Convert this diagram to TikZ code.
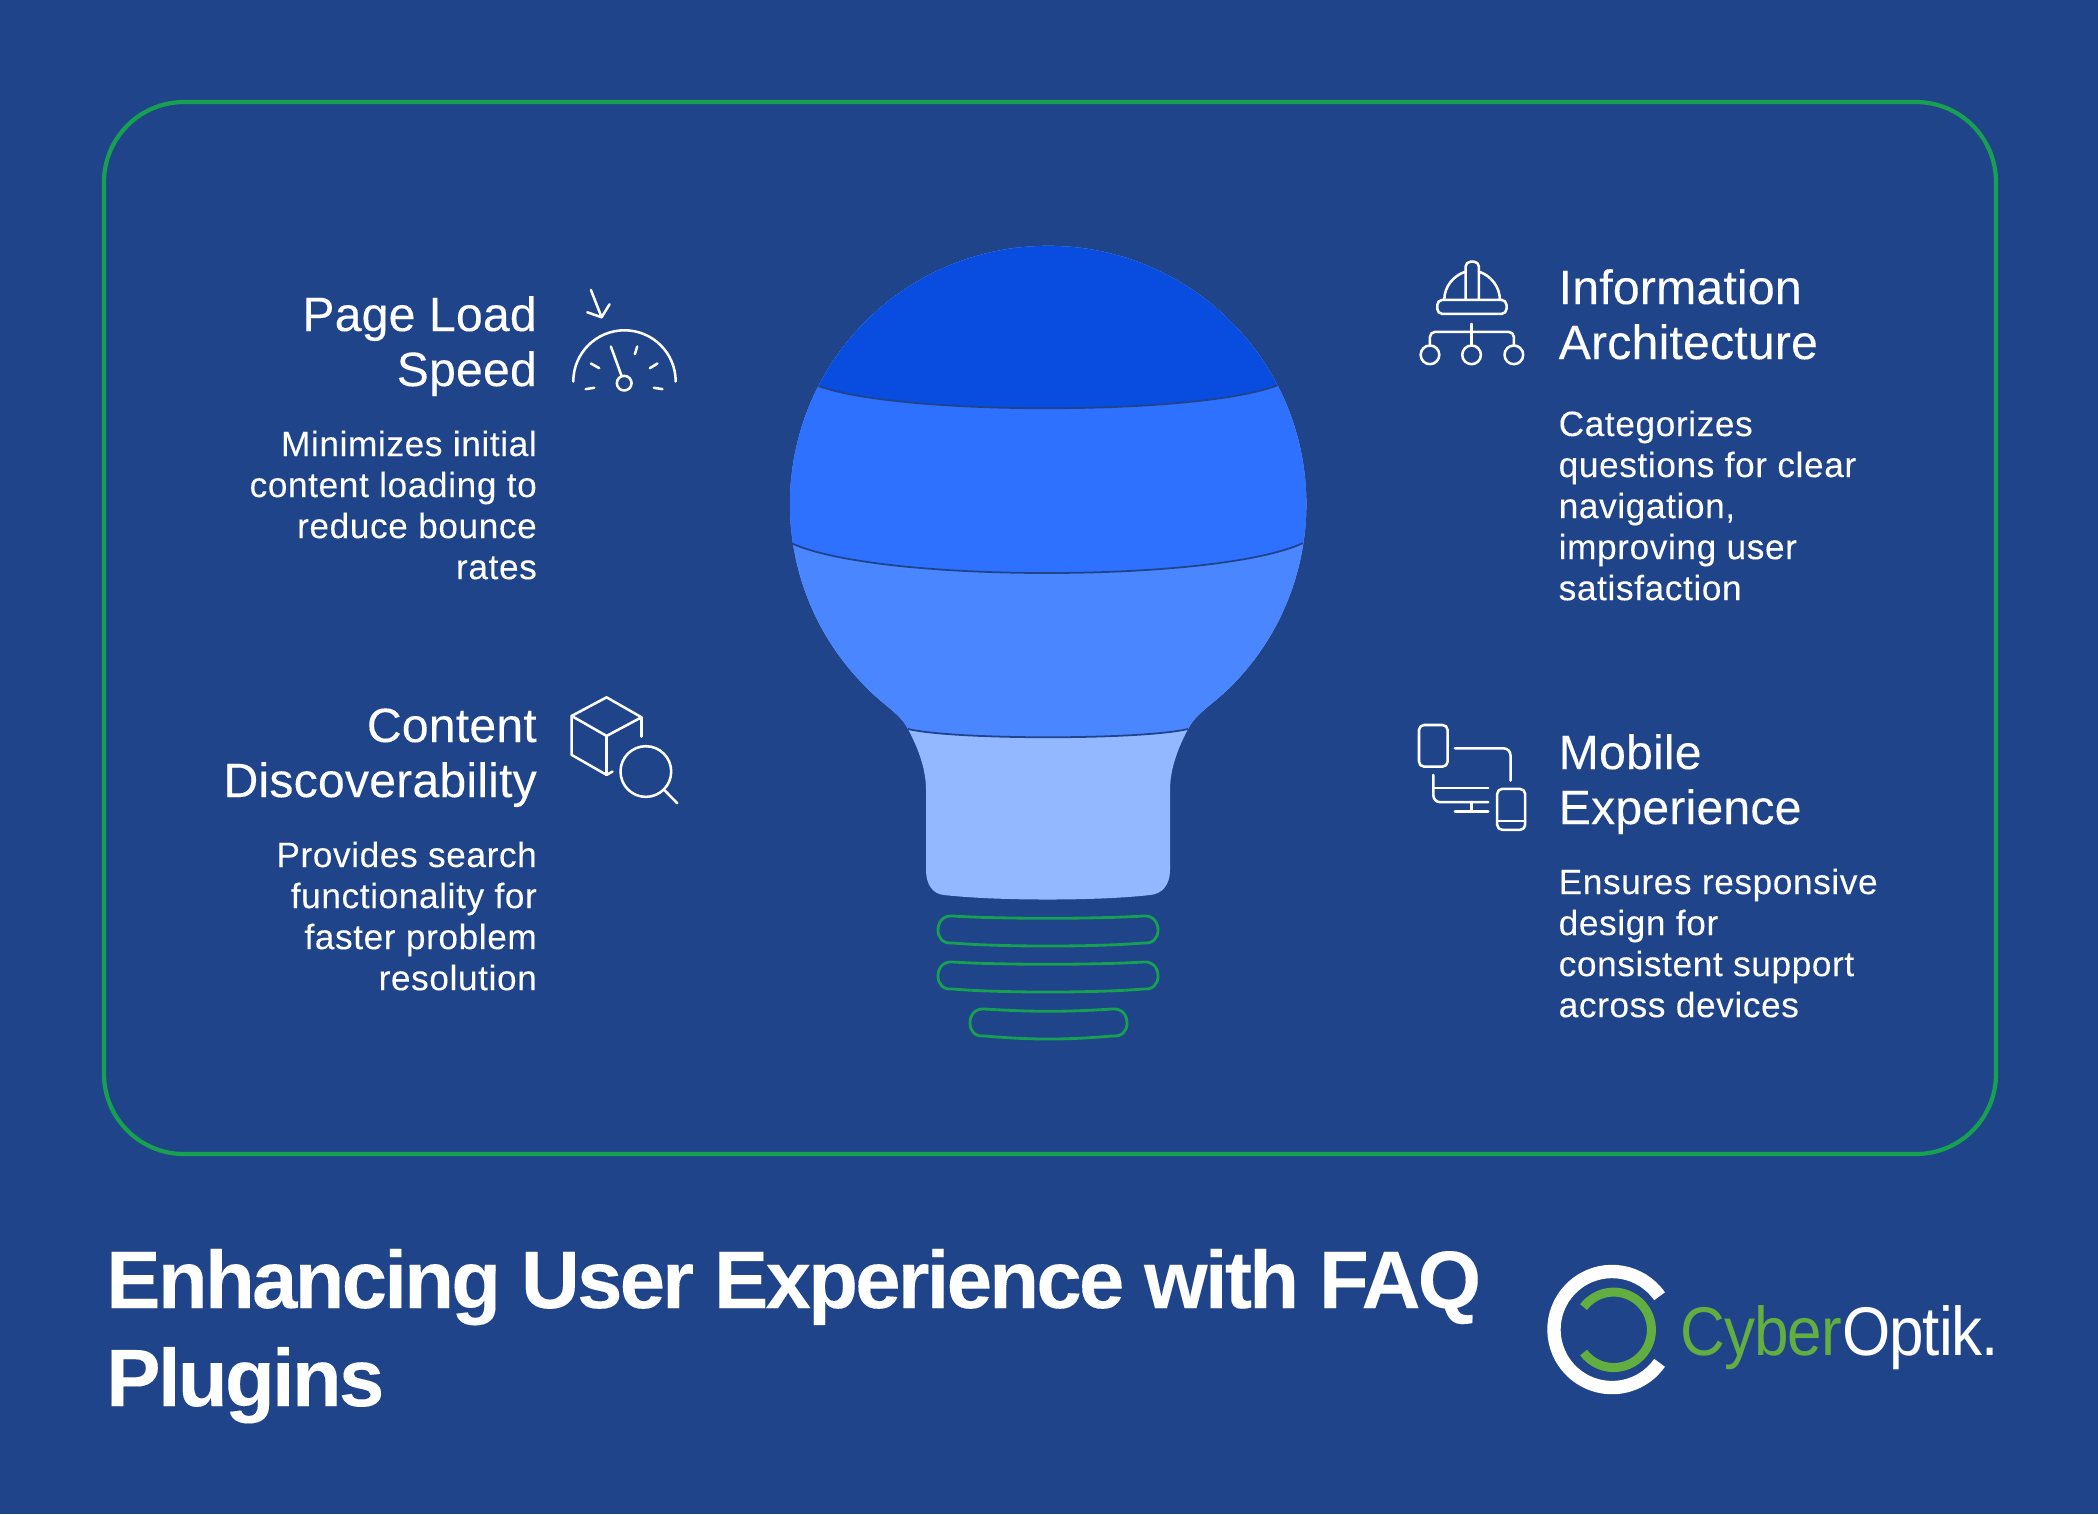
\documentclass[tikz,border=0pt]{standalone}
\usepackage{fontspec}
\setmainfont[LetterSpace=0.4,FakeBold=0.15,BoldFeatures={LetterSpace=-3.4,FakeBold=0.08}]{Liberation Sans}
\newfontfamily\logofont[LetterSpace=-1.5,FakeStretch=0.9]{Liberation Sans}
\definecolor{bgblue}{HTML}{1F448A}
\definecolor{framegreen}{HTML}{16A050}
\definecolor{bandA}{HTML}{084CE0}
\definecolor{bandB}{HTML}{2E70FF}
\definecolor{bandC}{HTML}{4A86FF}
\definecolor{bandD}{HTML}{94B8FF}
\definecolor{seam}{HTML}{1F448A}
\definecolor{logogreen}{HTML}{62AE41}
\newcommand{\bulbthread}[3]{%
  \draw[threadline] (#1+15,#3) .. controls (#1+62,#3+3) and (#2-62,#3+3) .. (#2-15,#3)
    .. controls (#2-5,#3-1) and (#2,#3+6) .. (#2,#3+14)
    .. controls (#2,#3+22) and (#2-5,#3+28) .. (#2-15,#3+27)
    .. controls (#2-62,#3+31) and (#1+62,#3+31) .. (#1+15,#3+27)
    .. controls (#1+5,#3+28) and (#1,#3+22) .. (#1,#3+14)
    .. controls (#1,#3+6) and (#1+5,#3-1) .. (#1+15,#3) -- cycle;}
\newcommand{\bulboutline}{(865.6,686.6)
    arc[start angle=225,end angle=-45,radius=2.58cm]
    .. controls (1211,706) and (1196,713) .. (1188,729)
    .. controls (1177,750) and (1170,770) .. (1170,790)
    -- (1170,870) .. controls (1170,885) and (1162,894) .. (1150,895)
    .. controls (1098,901) and (998,901) .. (944,895)
    .. controls (933,894) and (926,885) .. (926,870)
    -- (926,790) .. controls (926,770) and (919,750) .. (908,729)
    .. controls (900,713) and (884,706) .. (865.6,686.6) -- cycle}
\tikzset{
  threadline/.style={draw=framegreen,line width=0.8pt},
  iconline/.style={draw=white,line width=0.72pt,line cap=round,line join=round},
  headtext/.style={text=white,inner sep=0pt,font=\fontsize{13.7}{15.65}\selectfont},
  bodytext/.style={text=white,inner sep=0pt,font=\fontsize{10}{11.67}\selectfont\addfontfeature{LetterSpace=1.8}},
  titletext/.style={text=white,inner sep=0pt,font=\fontsize{23.2}{27.9}\selectfont\bfseries},
}
\begin{document}
\begin{tikzpicture}[x=0.01cm,y=-0.01cm]
\useasboundingbox (0,0) rectangle (2098,1514);
\fill[bgblue] (0,0) rectangle (2098,1514);
% frame
\draw[framegreen,line width=1.2pt,rounded corners=0.8cm] (104,102) rectangle (1996,1154);
% bulb
\begin{scope}
  \clip \bulboutline;
  \fill[bandD] (700,200) rectangle (1400,950);
  \fill[bandC] (700,200) -- (700,729) -- (908,729) .. controls (955,740) and (1141,740) .. (1188,729) -- (1400,729) -- (1400,200) -- cycle;
  \fill[bandB] (700,200) -- (700,543) -- (791,543) .. controls (877,583) and (1217,583) .. (1303,543) -- (1400,543) -- (1400,200) -- cycle;
  \fill[bandA] (700,200) -- (700,385) -- (816,385) .. controls (893,416) and (1201,416) .. (1278,385) -- (1400,385) -- (1400,200) -- cycle;
  \draw[seam,line width=0.5pt] (908,729) .. controls (955,740) and (1141,740) .. (1188,729);
  \draw[seam,line width=0.5pt] (791,543) .. controls (877,583) and (1217,583) .. (1303,543);
  \draw[seam,line width=0.5pt] (816,385) .. controls (893,416) and (1201,416) .. (1278,385);
\end{scope}
\bulbthread{938}{1158}{916}
\bulbthread{938}{1158}{962}
\bulbthread{970}{1127}{1009}
% texts left
\node[headtext,anchor=base east] (t1h) at (537.5,331) {\begin{tabular}[t]{@{}r@{}}Page Load\\Speed\end{tabular}};
\node[bodytext,anchor=base east] (t1b) at (537.5,456) {\begin{tabular}[t]{@{}r@{}}Minimizes initial\\content loading to\\reduce bounce\\rates\end{tabular}};
\node[headtext,anchor=base east] (t2h) at (537.5,742) {\begin{tabular}[t]{@{}r@{}}Content\\Discoverability\end{tabular}};
\node[bodytext,anchor=base east] (t2b) at (537.5,867) {\begin{tabular}[t]{@{}r@{}}Provides search\\functionality for\\faster problem\\resolution\end{tabular}};
% texts right
\node[headtext,anchor=base west] (t3h) at (1558,304) {\begin{tabular}[t]{@{}l@{}}Information\\Architecture\end{tabular}};
\node[bodytext,anchor=base west] (t3b) at (1558,436) {\begin{tabular}[t]{@{}l@{}}Categorizes\\questions for clear\\navigation,\\improving user\\satisfaction\end{tabular}};
\node[headtext,anchor=base west] (t4h) at (1558,769) {\begin{tabular}[t]{@{}l@{}}Mobile\\Experience\end{tabular}};
\node[bodytext,anchor=base west] (t4b) at (1558,894) {\begin{tabular}[t]{@{}l@{}}Ensures responsive\\design for\\consistent support\\across devices\end{tabular}};
% title
\node[titletext,anchor=base west] (title) at (105.5,1308) {\begin{tabular}[t]{@{}l@{}}Enhancing User Experience with FAQ\\Plugins\end{tabular}};
% speed icon
\begin{scope}[shift={(540,260)},x=0.00333cm,y=-0.00333cm,iconline]
  \draw (153,90) -- (185,172);
  \draw (142,157) -- (185,172) -- (209,133);
  \draw (100,365) arc[start angle=180,end angle=0,radius=0.5117cm];
  \draw (137,388) -- (163,384);
  \draw (153,311) -- (178,325);
  \draw (292,260) -- (285,283);
  \draw (353,311) -- (330,325);
  \draw (342,384) -- (368,388);
  \draw (213,260) -- (245,348);
  \draw (253,370) circle[radius=0.0733cm];
\end{scope}
% cube and lens icon
\begin{scope}[shift={(550,680)},x=0.00333cm,y=-0.00333cm,iconline]
  \draw (65,108) -- (170,52) -- (275,112) -- (170,168) -- cycle;
  \draw (65,108) -- (65,225) -- (170,285) -- (188,275);
  \draw (170,168) -- (170,285);
  \draw (275,112) -- (275,170);
  \draw (288,275) circle[radius=0.2533cm];
  \draw (345,332) -- (382,370);
\end{scope}
% helmet icon
\begin{scope}[shift={(1400,240)},x=0.00333cm,y=-0.00333cm,iconline]
  \draw[rounded corners=0.05cm] (112,180) rectangle (320,222);
  \draw (133,180) .. controls (133,140) and (160,107) .. (197,95);
  \draw (300,180) .. controls (300,140) and (273,107) .. (237,95);
  \draw[rounded corners=0.05cm] (197,180) -- (197,65) -- (237,65) -- (237,180);
  \draw (215,252) -- (215,317);
  \draw[rounded corners=0.05cm] (90,317) -- (90,276) -- (342,276) -- (342,317);
  \draw (90,345) circle[radius=0.0933cm];
  \draw (215,345) circle[radius=0.0933cm];
  \draw (342,345) circle[radius=0.0933cm];
\end{scope}
% devices icon
\begin{scope}[shift={(1400,710)},x=0.00333cm,y=-0.00333cm,iconline]
  \draw[rounded corners=0.05cm] (57,45) rectangle (143,170);
  \draw[rounded corners=0.07cm] (165,115) -- (332,115) -- (332,212);
  \draw[rounded corners=0.07cm] (100,195) -- (100,277) -- (265,277);
  \draw (100,235) -- (265,235);
  \draw (215,277) -- (215,305);
  \draw (165,305) -- (265,305);
  \draw[rounded corners=0.05cm] (292,237) rectangle (376,360);
  \draw (292,333) -- (376,333);
\end{scope}
% logo
\coordinate (logoA) at (1612,1329.5);
\coordinate (logoB) at (1613.7,1329.8);
\draw[white,line width=3.8pt] (logoA) ++(35:0.58cm) arc[start angle=35,end angle=325,radius=0.58cm];
\draw[logogreen,line width=2.56pt] (logoB) ++(143:0.377cm) arc[start angle=143,end angle=-143,radius=0.377cm];
\node[anchor=base west,inner sep=0pt,font=\fontsize{19.6}{24}\logofont] (logo) at (1680,1355) {\textcolor{logogreen}{Cyber}\textcolor{white}{Optik.}};
\end{tikzpicture}
\end{document}
